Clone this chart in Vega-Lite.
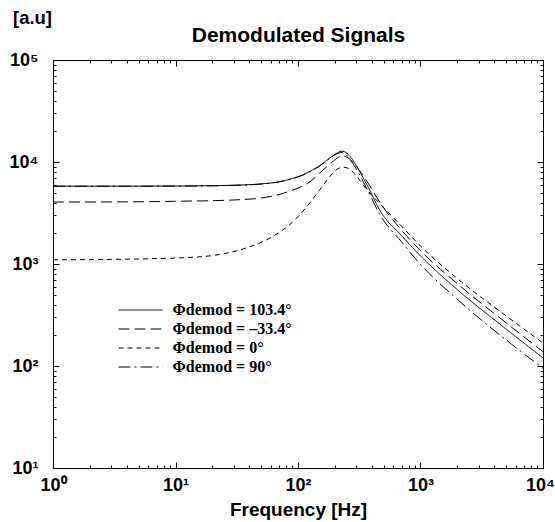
{
  "$schema": "https://vega.github.io/schema/vega-lite/v6.json",
  "width": 490,
  "height": 408,
  "autosize": {"type": "none"},
  "padding": {"left": 53, "top": 60, "right": 12, "bottom": 54},
  "background": "white",
  "config": {
    "view": {"stroke": "black", "strokeWidth": 1},
    "axis": {"domainColor": "black", "tickColor": "black", "labelColor": "black", "titleColor": "black", "grid": false, "labelFont": "Liberation Sans", "labelFontWeight": "bold", "labelFontSize": 18, "titleFont": "Liberation Sans", "titleFontWeight": "bold", "titleFontSize": 19}
  },
  "data": {"values": [
    {"f": 1, "v": 5800, "s": "Φdemod = 103.4°"},
    {"f": 3, "v": 5800, "s": "Φdemod = 103.4°"},
    {"f": 10, "v": 5820, "s": "Φdemod = 103.4°"},
    {"f": 20, "v": 5860, "s": "Φdemod = 103.4°"},
    {"f": 30, "v": 5920, "s": "Φdemod = 103.4°"},
    {"f": 50, "v": 6100, "s": "Φdemod = 103.4°"},
    {"f": 70, "v": 6400, "s": "Φdemod = 103.4°"},
    {"f": 90, "v": 6900, "s": "Φdemod = 103.4°"},
    {"f": 110, "v": 7500, "s": "Φdemod = 103.4°"},
    {"f": 130, "v": 8300, "s": "Φdemod = 103.4°"},
    {"f": 150, "v": 9200, "s": "Φdemod = 103.4°"},
    {"f": 170, "v": 10300, "s": "Φdemod = 103.4°"},
    {"f": 190, "v": 11400, "s": "Φdemod = 103.4°"},
    {"f": 210, "v": 12300, "s": "Φdemod = 103.4°"},
    {"f": 225, "v": 12750, "s": "Φdemod = 103.4°"},
    {"f": 240, "v": 12600, "s": "Φdemod = 103.4°"},
    {"f": 260, "v": 11700, "s": "Φdemod = 103.4°"},
    {"f": 290, "v": 9800, "s": "Φdemod = 103.4°"},
    {"f": 320, "v": 8000, "s": "Φdemod = 103.4°"},
    {"f": 370, "v": 5800, "s": "Φdemod = 103.4°"},
    {"f": 470, "v": 3300, "s": "Φdemod = 103.4°"},
    {"f": 700, "v": 1900, "s": "Φdemod = 103.4°"},
    {"f": 1000, "v": 1200, "s": "Φdemod = 103.4°"},
    {"f": 2000, "v": 560, "s": "Φdemod = 103.4°"},
    {"f": 5000, "v": 230, "s": "Φdemod = 103.4°"},
    {"f": 10000, "v": 120, "s": "Φdemod = 103.4°"},

    {"f": 1, "v": 4050, "s": "Φdemod = –33.4°"},
    {"f": 3, "v": 4060, "s": "Φdemod = –33.4°"},
    {"f": 10, "v": 4120, "s": "Φdemod = –33.4°"},
    {"f": 28, "v": 4230, "s": "Φdemod = –33.4°"},
    {"f": 52, "v": 4460, "s": "Φdemod = –33.4°"},
    {"f": 70, "v": 4800, "s": "Φdemod = –33.4°"},
    {"f": 86, "v": 5180, "s": "Φdemod = –33.4°"},
    {"f": 100, "v": 5550, "s": "Φdemod = –33.4°"},
    {"f": 118, "v": 6110, "s": "Φdemod = –33.4°"},
    {"f": 135, "v": 6900, "s": "Φdemod = –33.4°"},
    {"f": 151, "v": 7830, "s": "Φdemod = –33.4°"},
    {"f": 170, "v": 8900, "s": "Φdemod = –33.4°"},
    {"f": 194, "v": 10190, "s": "Φdemod = –33.4°"},
    {"f": 210, "v": 11000, "s": "Φdemod = –33.4°"},
    {"f": 226, "v": 11500, "s": "Φdemod = –33.4°"},
    {"f": 245, "v": 11300, "s": "Φdemod = –33.4°"},
    {"f": 266, "v": 10600, "s": "Φdemod = –33.4°"},
    {"f": 290, "v": 9500, "s": "Φdemod = –33.4°"},
    {"f": 321, "v": 8130, "s": "Φdemod = –33.4°"},
    {"f": 387, "v": 5800, "s": "Φdemod = –33.4°"},
    {"f": 467, "v": 4000, "s": "Φdemod = –33.4°"},
    {"f": 700, "v": 2150, "s": "Φdemod = –33.4°"},
    {"f": 1000, "v": 1350, "s": "Φdemod = –33.4°"},
    {"f": 2000, "v": 640, "s": "Φdemod = –33.4°"},
    {"f": 5000, "v": 265, "s": "Φdemod = –33.4°"},
    {"f": 10000, "v": 138, "s": "Φdemod = –33.4°"},

    {"f": 1, "v": 1100, "s": "Φdemod = 0°"},
    {"f": 3, "v": 1110, "s": "Φdemod = 0°"},
    {"f": 6, "v": 1125, "s": "Φdemod = 0°"},
    {"f": 11, "v": 1150, "s": "Φdemod = 0°"},
    {"f": 20, "v": 1210, "s": "Φdemod = 0°"},
    {"f": 38, "v": 1440, "s": "Φdemod = 0°"},
    {"f": 63, "v": 1880, "s": "Φdemod = 0°"},
    {"f": 92, "v": 2630, "s": "Φdemod = 0°"},
    {"f": 125, "v": 3980, "s": "Φdemod = 0°"},
    {"f": 151, "v": 5370, "s": "Φdemod = 0°"},
    {"f": 183, "v": 7260, "s": "Φdemod = 0°"},
    {"f": 207, "v": 8440, "s": "Φdemod = 0°"},
    {"f": 234, "v": 8900, "s": "Φdemod = 0°"},
    {"f": 266, "v": 8440, "s": "Φdemod = 0°"},
    {"f": 301, "v": 7260, "s": "Φdemod = 0°"},
    {"f": 364, "v": 5370, "s": "Φdemod = 0°"},
    {"f": 467, "v": 3900, "s": "Φdemod = 0°"},
    {"f": 700, "v": 2350, "s": "Φdemod = 0°"},
    {"f": 1000, "v": 1500, "s": "Φdemod = 0°"},
    {"f": 2000, "v": 720, "s": "Φdemod = 0°"},
    {"f": 5000, "v": 310, "s": "Φdemod = 0°"},
    {"f": 10000, "v": 168, "s": "Φdemod = 0°"},

    {"f": 1, "v": 5780, "s": "Φdemod = 90°"},
    {"f": 3, "v": 5780, "s": "Φdemod = 90°"},
    {"f": 10, "v": 5800, "s": "Φdemod = 90°"},
    {"f": 20, "v": 5840, "s": "Φdemod = 90°"},
    {"f": 30, "v": 5900, "s": "Φdemod = 90°"},
    {"f": 50, "v": 6080, "s": "Φdemod = 90°"},
    {"f": 70, "v": 6380, "s": "Φdemod = 90°"},
    {"f": 90, "v": 6850, "s": "Φdemod = 90°"},
    {"f": 110, "v": 7450, "s": "Φdemod = 90°"},
    {"f": 130, "v": 8200, "s": "Φdemod = 90°"},
    {"f": 150, "v": 9100, "s": "Φdemod = 90°"},
    {"f": 170, "v": 10200, "s": "Φdemod = 90°"},
    {"f": 190, "v": 11300, "s": "Φdemod = 90°"},
    {"f": 210, "v": 12100, "s": "Φdemod = 90°"},
    {"f": 225, "v": 12400, "s": "Φdemod = 90°"},
    {"f": 240, "v": 12100, "s": "Φdemod = 90°"},
    {"f": 260, "v": 11000, "s": "Φdemod = 90°"},
    {"f": 290, "v": 9100, "s": "Φdemod = 90°"},
    {"f": 320, "v": 7400, "s": "Φdemod = 90°"},
    {"f": 370, "v": 5300, "s": "Φdemod = 90°"},
    {"f": 470, "v": 3000, "s": "Φdemod = 90°"},
    {"f": 700, "v": 1650, "s": "Φdemod = 90°"},
    {"f": 1000, "v": 990, "s": "Φdemod = 90°"},
    {"f": 2000, "v": 450, "s": "Φdemod = 90°"},
    {"f": 5000, "v": 180, "s": "Φdemod = 90°"},
    {"f": 10000, "v": 95, "s": "Φdemod = 90°"}
  ]},
  "layer": [
    {
      "mark": {"type": "line", "color": "black", "strokeWidth": 1, "interpolate": "monotone"},
      "encoding": {
        "x": {"field": "f", "type": "quantitative",
          "scale": {"type": "log", "domain": [1, 10000], "nice": false},
          "axis": {"orient": "bottom", "title": "Frequency [Hz]", "titleY": 47, "titleBaseline": "alphabetic",
            "values": [1,2,3,4,5,6,7,8,9,10,20,30,40,50,60,70,80,90,100,200,300,400,500,600,700,800,900,1000,2000,3000,4000,5000,6000,7000,8000,9000,10000],
            "labelExpr": "abs(log(datum.value)/LN10 - round(log(datum.value)/LN10)) < 0.001 ? '10' + ['⁰','¹','²','³','⁴','⁵'][round(log(datum.value)/LN10)] : ''",
            "tickSize": {"condition": {"test": "abs(log(datum.value)/LN10 - round(log(datum.value)/LN10)) < 0.001", "value": -6}, "value": -3},
            "labelOffset": {"condition": {"test": "datum.value >= 9999", "value": -3}, "value": 0},
            "labelPadding": 14, "labelDx": -2, "labelFlush": false, "labelOverlap": false}},
        "y": {"field": "v", "type": "quantitative",
          "scale": {"type": "log", "domain": [10, 100000], "nice": false},
          "axis": {"orient": "left", "title": "[a.u]", "titleAngle": 0, "titleX": -21, "titleY": -43, "titleAlign": "center", "titleBaseline": "middle", "titleFontSize": 18.5,
            "values": [10,20,30,40,50,60,70,80,90,100,200,300,400,500,600,700,800,900,1000,2000,3000,4000,5000,6000,7000,8000,9000,10000,20000,30000,40000,50000,60000,70000,80000,90000,100000],
            "labelExpr": "abs(log(datum.value)/LN10 - round(log(datum.value)/LN10)) < 0.001 ? '10' + ['⁰','¹','²','³','⁴','⁵'][round(log(datum.value)/LN10)] : ''",
            "tickSize": {"condition": {"test": "abs(log(datum.value)/LN10 - round(log(datum.value)/LN10)) < 0.001", "value": -6}, "value": -3},
            "labelPadding": 21, "labelFlush": false, "labelOverlap": false, "labelBaseline": "middle"}},
        "strokeDash": {"field": "s", "type": "nominal",
          "scale": {"domain": ["Φdemod = 103.4°", "Φdemod = –33.4°", "Φdemod = 0°", "Φdemod = 90°"], "range": [[1, 0], [11, 5], [5, 4], [12, 4, 2, 4]]},
          "legend": {"title": null, "orient": "none", "legendX": 65, "legendY": 241, "padding": 0,
            "symbolType": "M-2.6,0H2.6", "symbolSize": 289, "symbolStrokeColor": "black", "symbolStrokeWidth": 1, "symbolOffset": 13.6,
            "labelOffset": 23, "labelFont": "Liberation Serif", "labelFontWeight": "bold", "labelFontSize": 16, "labelColor": "black", "rowPadding": 2, "labelLimit": 300}}
      }
    },
    {
      "mark": {"type": "line", "opacity": 0, "interpolate": "monotone"},
      "encoding": {
        "x": {"field": "f", "type": "quantitative",
          "axis": {"orient": "top", "title": "Demodulated Signals", "titleX": 245, "titleY": -19, "titleAlign": "center", "titleBaseline": "alphabetic", "titleFontSize": 21,
            "labels": false, "domain": false,
            "values": [1,2,3,4,5,6,7,8,9,10,20,30,40,50,60,70,80,90,100,200,300,400,500,600,700,800,900,1000,2000,3000,4000,5000,6000,7000,8000,9000,10000],
            "tickSize": {"condition": {"test": "abs(log(datum.value)/LN10 - round(log(datum.value)/LN10)) < 0.001", "value": -6}, "value": -3}}},
        "y": {"field": "v", "type": "quantitative",
          "axis": {"orient": "right", "title": null, "labels": false, "domain": false,
            "values": [10,20,30,40,50,60,70,80,90,100,200,300,400,500,600,700,800,900,1000,2000,3000,4000,5000,6000,7000,8000,9000,10000,20000,30000,40000,50000,60000,70000,80000,90000,100000],
            "tickSize": {"condition": {"test": "abs(log(datum.value)/LN10 - round(log(datum.value)/LN10)) < 0.001", "value": -6}, "value": -3}}},
        "detail": {"field": "s", "type": "nominal"}
      }
    }
  ]
}
